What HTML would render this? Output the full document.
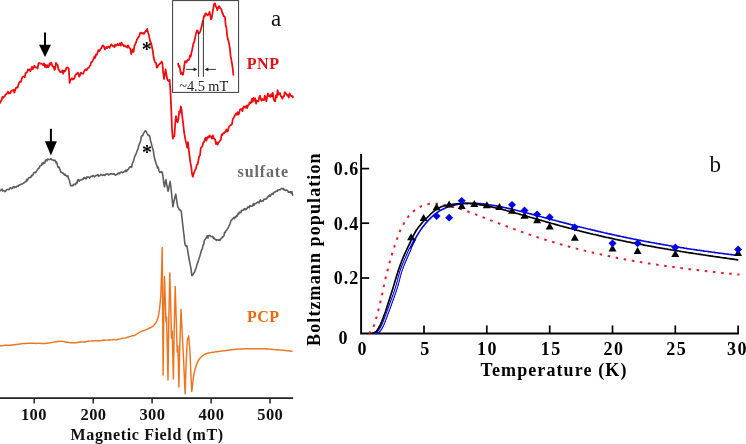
<!DOCTYPE html>
<html><head><meta charset="utf-8"><title>Figure</title>
<style>html,body{margin:0;padding:0;background:#fff;width:746px;height:444px;overflow:hidden}
svg text{font-family:"Liberation Serif",serif}</style></head><body>
<svg width="746" height="444" viewBox="0 0 746 444" style="position:absolute;left:0;top:0;will-change:transform">
<rect width="746" height="444" fill="#fff"/>
<path d="M0.0,103.4 L0.8,101.1 L1.6,100.2 L2.4,96.9 L3.2,97.9 L4.0,96.8 L4.8,96.2 L5.6,94.4 L6.4,94.2 L7.2,93.0 L8.0,91.5 L8.8,93.5 L9.6,93.0 L10.4,93.3 L11.2,90.9 L12.0,90.6 L12.8,90.6 L13.6,89.6 L14.4,92.7 L15.2,90.0 L16.0,87.9 L16.8,87.3 L17.6,87.7 L18.4,85.1 L19.2,82.5 L20.0,81.7 L20.8,82.0 L21.6,79.4 L22.4,77.1 L23.2,76.4 L24.0,76.5 L24.8,77.4 L25.6,72.9 L26.4,72.9 L27.2,72.0 L28.0,69.3 L28.8,70.3 L29.6,69.4 L30.4,71.2 L31.2,69.1 L32.0,66.9 L32.8,69.2 L33.6,67.5 L34.4,65.7 L35.2,67.2 L36.0,67.4 L36.8,67.3 L37.6,68.6 L38.4,63.9 L39.2,62.9 L40.0,63.5 L40.8,63.5 L41.6,63.8 L42.4,64.0 L43.2,65.2 L44.0,63.3 L44.8,66.9 L45.6,64.7 L46.4,67.4 L47.2,65.1 L48.0,67.3 L48.8,66.4 L49.6,63.4 L50.4,64.6 L51.2,62.6 L52.0,64.9 L52.8,66.5 L53.6,66.5 L54.4,69.8 L55.2,69.0 L56.0,62.8 L56.8,64.3 L57.6,64.9 L58.4,69.4 L59.2,69.9 L60.0,72.0 L60.8,72.1 L61.6,71.9 L62.4,70.3 L63.2,73.8 L64.0,70.6 L64.8,71.4 L65.6,70.6 L66.4,67.7 L67.2,67.7 L68.0,67.6 L68.8,69.0 L69.6,83.0 L70.4,79.9 L71.2,79.5 L72.0,78.1 L72.8,79.5 L73.6,78.9 L74.4,78.5 L75.2,75.5 L76.0,74.2 L76.8,74.1 L77.6,72.6 L78.4,73.4 L79.2,76.7 L80.0,75.4 L80.8,72.7 L81.6,73.5 L82.4,73.6 L83.2,73.7 L84.0,71.7 L84.8,70.1 L85.6,69.3 L86.4,70.3 L87.2,69.4 L88.0,67.9 L88.8,67.7 L89.6,66.0 L90.4,65.5 L91.2,62.1 L92.0,62.0 L92.8,60.6 L93.6,58.9 L94.4,56.4 L95.2,57.9 L96.0,54.5 L96.8,54.8 L97.6,52.4 L98.4,50.1 L99.2,51.3 L100.0,50.3 L100.8,48.7 L101.6,47.8 L102.4,45.7 L103.2,45.4 L104.0,46.5 L104.8,49.4 L105.6,48.5 L106.4,46.9 L107.2,48.0 L108.0,46.6 L108.8,46.6 L109.6,47.8 L110.4,46.0 L111.2,44.4 L112.0,45.1 L112.8,46.2 L113.6,46.0 L114.4,47.2 L115.2,44.5 L116.0,45.8 L116.8,45.1 L117.6,44.0 L118.4,45.3 L119.2,44.9 L120.0,43.2 L120.8,45.6 L121.6,42.7 L122.4,44.6 L123.2,45.1 L124.0,46.3 L124.8,45.5 L125.6,46.7 L126.4,46.4 L127.2,47.6 L128.0,45.3 L128.8,46.7 L129.6,48.2 L130.4,48.7 L131.2,54.1 L132.0,50.9 L132.8,49.4 L133.6,52.0 L134.4,45.9 L135.2,44.5 L136.0,42.7 L136.8,39.6 L137.6,38.6 L138.4,37.0 L139.2,36.3 L140.0,33.3 L140.8,32.7 L141.6,32.9 L142.4,33.6 L143.2,32.9 L144.0,33.9 L144.8,32.5 L145.6,30.9 L146.4,31.1 L147.2,28.9 L148.0,32.5 L148.8,34.8 L149.6,39.1 L150.4,42.1 L151.2,43.3 L152.0,47.2 L152.8,50.8 L153.6,57.3 L154.4,60.6 L155.2,62.5 L156.0,62.8 L156.8,67.7 L157.6,67.0 L158.4,65.2 L159.2,64.4 L160.0,63.6 L160.8,62.9 L161.6,61.4 L162.4,63.2 L163.2,72.6 L164.0,79.0 L164.8,74.9 L165.6,69.3 L166.4,74.4 L167.2,79.0 L168.0,80.5 L168.8,81.2 L169.6,79.8 L170.4,90.3 L171.2,108.5 L172.0,129.1 L172.8,138.6 L173.6,136.7 L174.4,136.3 L175.2,123.6 L176.0,116.1 L176.8,120.2 L177.6,122.3 L178.4,118.9 L179.2,111.4 L180.0,112.8 L180.8,106.5 L181.6,109.8 L182.4,117.6 L183.2,123.7 L184.0,131.5 L184.8,136.3 L185.6,140.6 L186.4,143.7 L187.2,147.7 L188.0,142.1 L188.8,149.8 L189.6,156.4 L190.4,162.7 L191.2,166.7 L192.0,173.6 L192.8,176.7 L193.6,173.9 L194.4,171.7 L195.2,170.0 L196.0,168.6 L196.8,164.8 L197.6,164.2 L198.4,160.3 L199.2,156.4 L200.0,155.5 L200.8,147.8 L201.6,147.1 L202.4,146.1 L203.2,142.8 L204.0,141.9 L204.8,139.4 L205.6,137.6 L206.4,140.7 L207.2,137.9 L208.0,136.6 L208.8,137.7 L209.6,135.4 L210.4,136.9 L211.2,136.7 L212.0,138.7 L212.8,135.3 L213.6,138.3 L214.4,138.8 L215.2,139.5 L216.0,144.1 L216.8,142.4 L217.6,144.6 L218.4,142.5 L219.2,141.9 L220.0,140.6 L220.8,139.8 L221.6,134.5 L222.4,135.0 L223.2,133.2 L224.0,133.4 L224.8,132.0 L225.6,132.0 L226.4,129.3 L227.2,131.5 L228.0,131.0 L228.8,127.0 L229.6,126.2 L230.4,125.2 L231.2,124.9 L232.0,124.2 L232.8,118.9 L233.6,118.2 L234.4,116.3 L235.2,114.9 L236.0,113.5 L236.8,114.8 L237.6,112.2 L238.4,114.6 L239.2,113.0 L240.0,109.6 L240.8,109.1 L241.6,109.0 L242.4,111.2 L243.2,107.6 L244.0,106.3 L244.8,107.6 L245.6,107.7 L246.4,105.6 L247.2,108.1 L248.0,105.2 L248.8,105.0 L249.6,102.4 L250.4,103.1 L251.2,102.3 L252.0,98.6 L252.8,101.8 L253.6,97.9 L254.4,100.6 L255.2,98.3 L256.0,103.7 L256.8,100.7 L257.6,101.3 L258.4,101.4 L259.2,97.4 L260.0,95.6 L260.8,98.8 L261.6,100.7 L262.4,99.0 L263.2,100.0 L264.0,100.1 L264.8,95.6 L265.6,98.6 L266.4,101.3 L267.2,96.4 L268.0,93.5 L268.8,96.3 L269.6,95.5 L270.4,96.8 L271.2,94.2 L272.0,96.4 L272.8,92.8 L273.6,99.1 L274.4,101.0 L275.2,101.2 L276.0,95.3 L276.8,97.4 L277.6,90.1 L278.4,94.6 L279.2,93.8 L280.0,92.9 L280.8,96.2 L281.6,96.7 L282.4,98.6 L283.2,96.6 L284.0,96.4 L284.8,92.1 L285.6,93.1 L286.4,94.0 L287.2,95.5 L288.0,94.9 L288.8,97.6 L289.6,93.5 L290.4,95.0 L291.2,96.2 L292.0,95.8 L292.8,97.5 L293.0,95.7" fill="none" stroke="#f00a0e" stroke-width="1.75" stroke-linejoin="round"/>
<path d="M0.0,191.3 L0.7,190.1 L1.4,190.2 L2.1,189.0 L2.8,190.9 L3.5,190.8 L4.2,190.8 L4.9,191.6 L5.6,191.3 L6.3,189.9 L7.0,189.6 L7.7,189.4 L8.4,189.8 L9.1,189.5 L9.8,188.0 L10.5,187.7 L11.2,188.6 L11.9,188.8 L12.6,187.5 L13.3,186.8 L14.0,187.8 L14.7,186.6 L15.4,187.1 L16.1,187.3 L16.8,186.5 L17.5,186.0 L18.2,186.2 L18.9,185.1 L19.6,185.1 L20.3,184.6 L21.0,184.4 L21.7,184.0 L22.4,184.0 L23.1,183.4 L23.8,183.1 L24.5,182.4 L25.2,181.9 L25.9,181.9 L26.6,179.4 L27.3,180.7 L28.0,179.0 L28.7,177.7 L29.4,177.7 L30.1,177.3 L30.8,177.4 L31.5,175.4 L32.2,175.7 L32.9,175.0 L33.6,172.9 L34.3,172.4 L35.0,172.7 L35.7,172.1 L36.4,171.4 L37.1,170.2 L37.8,169.2 L38.5,168.2 L39.2,168.1 L39.9,165.9 L40.6,165.7 L41.3,165.3 L42.0,163.3 L42.7,164.5 L43.4,162.5 L44.1,162.3 L44.8,163.1 L45.5,160.4 L46.2,159.9 L46.9,160.9 L47.6,159.0 L48.3,159.3 L49.0,159.6 L49.7,159.4 L50.4,159.2 L51.1,158.8 L51.8,159.7 L52.5,160.0 L53.2,160.4 L53.9,160.1 L54.6,160.7 L55.3,160.4 L56.0,162.7 L56.7,162.0 L57.4,165.2 L58.1,167.3 L58.8,166.8 L59.5,168.4 L60.2,170.0 L60.9,172.2 L61.6,172.2 L62.3,173.1 L63.0,173.1 L63.7,173.8 L64.4,175.1 L65.1,174.2 L65.8,175.3 L66.5,175.8 L67.2,176.6 L67.9,175.9 L68.6,178.9 L69.3,179.9 L70.0,183.0 L70.7,185.8 L71.4,185.7 L72.1,185.5 L72.8,185.7 L73.5,184.7 L74.2,184.1 L74.9,184.7 L75.6,184.5 L76.3,182.4 L77.0,183.2 L77.7,180.0 L78.4,179.7 L79.1,181.2 L79.8,180.1 L80.5,180.3 L81.2,179.9 L81.9,179.2 L82.6,179.5 L83.3,178.8 L84.0,177.5 L84.7,178.3 L85.4,178.1 L86.1,179.0 L86.8,176.8 L87.5,177.5 L88.2,177.1 L88.9,177.1 L89.6,178.1 L90.3,177.0 L91.0,176.3 L91.7,176.5 L92.4,176.7 L93.1,175.5 L93.8,175.9 L94.5,176.8 L95.2,176.2 L95.9,175.6 L96.6,175.3 L97.3,175.5 L98.0,174.5 L98.7,176.1 L99.4,175.7 L100.1,175.4 L100.8,174.4 L101.5,174.8 L102.2,175.5 L102.9,175.3 L103.6,174.7 L104.3,175.2 L105.0,175.4 L105.7,174.2 L106.4,174.2 L107.1,173.9 L107.8,173.7 L108.5,174.9 L109.2,174.6 L109.9,174.5 L110.6,173.5 L111.3,173.6 L112.0,174.1 L112.7,174.0 L113.4,174.3 L114.1,173.7 L114.8,174.6 L115.5,175.2 L116.2,174.8 L116.9,174.6 L117.6,173.4 L118.3,173.8 L119.0,172.8 L119.7,173.6 L120.4,172.6 L121.1,172.3 L121.8,172.0 L122.5,172.7 L123.2,172.3 L123.9,172.1 L124.6,171.0 L125.3,171.6 L126.0,170.0 L126.7,171.3 L127.4,169.7 L128.1,169.4 L128.8,168.6 L129.5,167.1 L130.2,166.7 L130.9,167.0 L131.6,167.4 L132.3,163.8 L133.0,162.1 L133.7,160.6 L134.4,157.6 L135.1,155.6 L135.8,154.5 L136.5,152.8 L137.2,150.4 L137.9,149.4 L138.6,146.1 L139.3,144.2 L140.0,142.7 L140.7,140.5 L141.4,136.1 L142.1,135.7 L142.8,135.7 L143.5,133.2 L144.2,132.5 L144.9,131.3 L145.6,130.7 L146.3,131.7 L147.0,133.3 L147.7,134.6 L148.4,135.4 L149.1,135.4 L149.8,136.7 L150.5,140.6 L151.2,143.0 L151.9,146.1 L152.6,148.3 L153.3,150.4 L154.0,156.0 L154.7,158.7 L155.4,161.2 L156.1,163.7 L156.8,165.4 L157.5,168.0 L158.2,167.1 L158.9,170.5 L159.6,172.3 L160.3,171.8 L161.0,172.5 L161.7,171.6 L162.4,172.8 L163.1,177.4 L163.8,183.7 L164.5,186.8 L165.2,183.0 L165.9,179.6 L166.6,184.1 L167.3,187.0 L168.0,191.2 L168.7,188.9 L169.4,184.9 L170.1,181.6 L170.8,186.3 L171.5,192.9 L172.2,199.5 L172.9,206.8 L173.6,202.7 L174.3,200.0 L175.0,196.8 L175.7,194.1 L176.4,198.2 L177.1,203.0 L177.8,206.9 L178.5,207.7 L179.2,209.5 L179.9,210.3 L180.6,210.0 L181.3,211.8 L182.0,217.7 L182.7,224.3 L183.4,230.6 L184.1,236.1 L184.8,243.1 L185.5,245.4 L186.2,246.2 L186.9,245.8 L187.6,249.8 L188.3,254.3 L189.0,258.5 L189.7,262.2 L190.4,265.6 L191.1,269.5 L191.8,275.5 L192.5,275.4 L193.2,274.0 L193.9,273.1 L194.6,272.0 L195.3,269.6 L196.0,268.6 L196.7,265.6 L197.4,263.6 L198.1,261.9 L198.8,259.0 L199.5,257.3 L200.2,254.9 L200.9,252.3 L201.6,250.0 L202.3,248.9 L203.0,245.3 L203.7,244.3 L204.4,240.3 L205.1,239.4 L205.8,238.5 L206.5,237.5 L207.2,235.8 L207.9,238.0 L208.6,235.7 L209.3,235.4 L210.0,235.6 L210.7,236.0 L211.4,236.7 L212.1,236.8 L212.8,236.4 L213.5,238.4 L214.2,237.8 L214.9,239.1 L215.6,239.6 L216.3,240.3 L217.0,239.7 L217.7,240.0 L218.4,240.3 L219.1,239.5 L219.8,240.5 L220.5,239.5 L221.2,238.3 L221.9,238.1 L222.6,236.7 L223.3,236.7 L224.0,235.6 L224.7,232.2 L225.4,232.3 L226.1,230.4 L226.8,230.2 L227.5,228.6 L228.2,227.7 L228.9,226.0 L229.6,225.1 L230.3,223.1 L231.0,220.5 L231.7,220.1 L232.4,219.0 L233.1,218.4 L233.8,217.5 L234.5,218.7 L235.2,216.8 L235.9,217.2 L236.6,215.5 L237.3,216.1 L238.0,213.6 L238.7,214.1 L239.4,212.1 L240.1,212.6 L240.8,212.8 L241.5,210.3 L242.2,210.2 L242.9,210.5 L243.6,209.8 L244.3,208.7 L245.0,209.9 L245.7,208.8 L246.4,209.3 L247.1,208.3 L247.8,206.9 L248.5,206.9 L249.2,207.8 L249.9,205.6 L250.6,205.8 L251.3,206.2 L252.0,206.1 L252.7,205.6 L253.4,203.6 L254.1,205.5 L254.8,203.8 L255.5,203.6 L256.2,203.2 L256.9,202.8 L257.6,202.0 L258.3,202.1 L259.0,202.9 L259.7,200.9 L260.4,199.9 L261.1,201.5 L261.8,201.0 L262.5,200.9 L263.2,201.1 L263.9,199.1 L264.6,199.2 L265.3,199.1 L266.0,199.1 L266.7,198.7 L267.4,197.0 L268.1,196.2 L268.8,196.4 L269.5,195.0 L270.2,196.3 L270.9,194.8 L271.6,194.2 L272.3,193.4 L273.0,194.3 L273.7,193.0 L274.4,192.0 L275.1,192.1 L275.8,191.1 L276.5,191.2 L277.2,191.4 L277.9,189.9 L278.6,190.1 L279.3,189.8 L280.0,190.0 L280.7,189.2 L281.4,188.5 L282.1,188.2 L282.8,189.1 L283.5,188.6 L284.2,190.1 L284.9,189.9 L285.6,190.5 L286.3,190.1 L287.0,190.3 L287.7,190.7 L288.4,192.3 L289.1,191.9 L289.8,192.3 L290.5,191.7 L291.2,193.3 L291.9,191.6 L292.6,195.2 L292.9,194.4" fill="none" stroke="#5e5e5e" stroke-width="1.6" stroke-linejoin="round"/>
<path d="M0.0,345.9 L0.8,345.7 L1.6,345.7 L2.4,345.6 L3.2,345.5 L4.0,345.6 L4.8,345.3 L5.6,345.3 L6.4,345.3 L7.2,345.2 L8.0,345.3 L8.8,345.4 L9.6,345.3 L10.4,345.2 L11.2,345.0 L12.0,344.9 L12.8,345.0 L13.6,344.8 L14.4,344.8 L15.2,344.7 L16.0,344.5 L16.8,344.5 L17.6,344.3 L18.4,344.2 L19.2,344.1 L20.0,344.0 L20.8,343.9 L21.6,343.7 L22.4,343.6 L23.2,343.5 L24.0,343.6 L24.8,343.5 L25.6,343.4 L26.4,343.4 L27.2,343.3 L28.0,343.4 L28.8,343.3 L29.6,343.3 L30.4,343.2 L31.2,343.2 L32.0,343.3 L32.8,343.2 L33.6,343.2 L34.4,343.4 L35.2,343.3 L36.0,343.5 L36.8,343.4 L37.6,343.3 L38.4,343.3 L39.2,343.4 L40.0,343.3 L40.8,343.4 L41.6,343.4 L42.4,343.4 L43.2,343.5 L44.0,343.5 L44.8,343.5 L45.6,343.5 L46.4,343.2 L47.2,343.2 L48.0,343.1 L48.8,342.9 L49.6,342.9 L50.4,342.7 L51.2,342.6 L52.0,342.4 L52.8,342.1 L53.6,342.1 L54.4,342.0 L55.2,341.8 L56.0,341.8 L56.8,341.7 L57.6,341.5 L58.4,341.4 L59.2,341.4 L60.0,341.3 L60.8,341.3 L61.6,341.4 L62.4,341.3 L63.2,341.5 L64.0,341.6 L64.8,341.7 L65.6,342.0 L66.4,342.2 L67.2,342.2 L68.0,342.3 L68.8,342.5 L69.6,342.6 L70.4,342.7 L71.2,342.7 L72.0,342.7 L72.8,342.8 L73.6,342.9 L74.4,342.7 L75.2,342.7 L76.0,342.7 L76.8,342.5 L77.6,342.6 L78.4,342.3 L79.2,342.3 L80.0,342.2 L80.8,342.0 L81.6,342.1 L82.4,341.9 L83.2,341.9 L84.0,342.0 L84.8,342.0 L85.6,341.8 L86.4,341.6 L87.2,341.4 L88.0,341.2 L88.8,341.2 L89.6,341.1 L90.4,341.1 L91.2,341.0 L92.0,341.0 L92.8,340.9 L93.6,341.0 L94.4,340.9 L95.2,340.8 L96.0,340.8 L96.8,340.6 L97.6,340.7 L98.4,340.7 L99.2,340.7 L100.0,340.7 L100.8,340.6 L101.6,340.6 L102.4,340.3 L103.2,340.2 L104.0,340.2 L104.8,340.0 L105.6,340.1 L106.4,340.1 L107.2,340.1 L108.0,340.0 L108.8,340.0 L109.6,340.0 L110.4,339.9 L111.2,339.9 L112.0,339.8 L112.8,339.6 L113.6,339.4 L114.4,339.6 L115.2,339.6 L116.0,339.7 L116.8,339.7 L117.6,339.4 L118.4,339.3 L119.2,339.1 L120.0,338.9 L120.8,338.7 L121.6,338.4 L122.4,338.3 L123.2,338.1 L124.0,338.1 L124.8,338.0 L125.6,337.9 L126.4,337.7 L127.2,337.3 L128.0,337.2 L128.8,336.8 L129.6,336.6 L130.4,336.4 L131.2,336.1 L132.0,335.9 L132.8,335.8 L133.6,335.7 L134.4,335.4 L135.2,335.1 L136.0,334.6 L136.8,334.0 L137.6,333.5 L138.4,332.9 L139.2,332.6 L140.0,332.1 L140.8,331.7 L141.6,331.3 L142.4,331.0 L143.2,330.8 L144.0,330.5 L144.8,330.2 L145.6,329.8 L146.4,329.5 L147.2,329.2 L148.0,328.8 L148.8,328.4 L149.6,328.0 L150.4,327.7 L151.2,327.3 L152.0,326.8 L152.8,326.3 L153.6,325.6 L154.4,324.8 L155.2,323.8 L156.0,322.6 L156.8,321.1 L157.6,319.1 L158.4,316.1 L159.2,311.8 L160.0,304.5 L160.8,295.3 L161.6,272.0 L162.2,247.4 L162.6,300.0 L163.1,375.0 L163.7,320.0 L164.5,276.5 L165.3,300.0 L166.0,322.0 L166.6,317.0 L167.2,345.0 L168.0,380.0 L168.8,320.0 L169.8,273.0 L170.6,300.0 L171.4,338.0 L172.2,331.0 L172.8,355.0 L173.4,379.0 L174.2,330.0 L175.2,286.5 L176.2,318.0 L177.2,352.0 L177.9,346.0 L178.4,365.0 L178.9,387.0 L179.8,345.0 L181.0,309.5 L182.3,335.0 L183.6,360.0 L184.4,378.0 L185.1,393.7 L186.2,362.0 L187.3,340.0 L188.7,336.0 L190.0,352.0 L190.9,375.0 L191.8,391.4 L192.4,386.5 L193.0,381.2 L193.6,376.0 L194.2,372.8 L194.8,370.3 L195.4,368.1 L196.0,366.2 L196.6,364.5 L197.2,363.1 L197.8,361.7 L198.4,360.6 L199.0,359.5 L199.6,358.7 L200.2,357.9 L200.8,357.3 L201.4,356.7 L202.0,356.2 L202.6,355.8 L203.2,355.3 L203.8,354.9 L204.4,354.6 L205.0,354.2 L205.6,354.0 L206.2,353.7 L206.8,353.5 L207.4,353.3 L208.0,353.2 L208.6,353.0 L209.2,352.9 L209.8,352.7 L210.4,352.6 L211.0,352.5 L211.6,352.4 L212.2,352.3 L212.8,352.3 L213.4,352.2 L214.0,352.1 L214.6,352.0 L215.2,351.9 L215.8,351.8 L216.4,351.8 L217.0,351.7 L217.6,351.6 L218.2,351.5 L218.8,351.4 L219.4,351.4 L220.0,351.3 L220.6,351.2 L221.2,351.1 L221.8,351.0 L222.4,351.0 L223.0,350.9 L223.6,350.8 L224.2,350.7 L224.8,350.7 L225.4,350.6 L226.0,350.5 L226.6,350.4 L227.2,350.3 L227.8,350.3 L228.4,350.2 L229.0,350.1 L229.6,350.0 L230.2,349.9 L230.8,349.9 L231.4,349.8 L232.0,349.7 L232.6,349.6 L233.2,349.5 L233.8,349.5 L234.4,349.4 L235.0,349.4 L235.6,349.3 L236.2,349.3 L236.8,349.2 L237.4,349.2 L238.0,349.1 L238.6,349.1 L239.2,349.1 L239.8,349.0 L240.4,349.0 L241.0,349.0 L241.6,348.9 L242.2,348.9 L242.8,348.9 L243.4,348.9 L244.0,348.8 L244.6,348.8 L245.2,348.8 L245.8,348.8 L246.4,348.8 L247.0,348.7 L247.6,348.7 L248.2,348.7 L248.8,348.7 L249.4,348.7 L250.0,348.7 L250.6,348.7 L251.2,348.7 L251.8,348.7 L252.4,348.7 L253.0,348.7 L253.6,348.7 L254.2,348.7 L254.8,348.7 L255.4,348.7 L256.0,348.7 L256.6,348.7 L257.2,348.7 L257.8,348.7 L258.4,348.7 L259.0,348.7 L259.6,348.7 L260.2,348.7 L260.8,348.7 L261.4,348.7 L262.0,348.7 L262.6,348.7 L263.2,348.7 L263.8,348.7 L264.4,348.8 L265.0,348.8 L265.6,348.8 L266.2,348.9 L266.8,348.9 L267.4,348.9 L268.0,349.0 L268.6,349.0 L269.2,349.1 L269.8,349.1 L270.4,349.2 L271.0,349.3 L271.6,349.3 L272.2,349.4 L272.8,349.4 L273.4,349.5 L274.0,349.5 L274.6,349.6 L275.2,349.6 L275.8,349.7 L276.4,349.7 L277.0,349.8 L277.6,349.8 L278.2,349.8 L278.8,349.9 L279.4,349.9 L280.0,350.0 L280.6,350.0 L281.2,350.1 L281.8,350.1 L282.4,350.2 L283.0,350.3 L283.6,350.3 L284.2,350.4 L284.8,350.4 L285.4,350.5 L286.0,350.5 L286.6,350.6 L287.2,350.7 L287.8,350.7 L288.4,350.8 L289.0,350.9 L289.6,351.0 L290.2,351.0 L290.8,351.1 L291.4,351.2 L292.0,351.3 L292.6,351.3" fill="none" stroke="#ee7420" stroke-width="1.45" stroke-linejoin="round"/>
<rect x="172.6" y="0.6" width="66" height="91.8" fill="#fff" stroke="#3a3a3a" stroke-width="1"/>
<path d="M177.4,63.5 L178.1,63.5 L178.8,66.9 L179.5,66.0 L180.2,69.5 L180.9,74.1 L181.6,72.6 L182.3,73.5 L183.0,74.8 L183.7,70.7 L184.4,64.6 L185.1,61.1 L185.8,61.3 L186.5,62.5 L187.2,60.5 L187.9,60.0 L188.6,60.1 L189.3,59.4 L190.0,55.3 L190.7,56.7 L191.4,52.8 L192.1,50.1 L192.8,46.5 L193.5,43.3 L194.2,41.8 L194.9,38.7 L195.6,35.4 L196.3,32.5 L197.0,30.4 L197.7,30.8 L198.4,33.5 L199.1,33.4 L199.8,32.5 L200.5,30.6 L201.2,28.0 L201.9,25.3 L202.6,21.8 L203.3,19.4 L204.0,16.0 L204.7,16.3 L205.4,13.3 L206.1,13.6 L206.8,14.6 L207.5,15.3 L208.2,14.8 L208.9,13.4 L209.6,11.7 L210.3,15.6 L211.0,19.3 L211.7,18.2 L212.4,13.9 L213.1,9.6 L213.8,5.4 L214.5,3.3 L215.2,3.7 L215.9,6.9 L216.6,7.1 L217.3,10.2 L218.0,8.1 L218.7,7.1 L219.4,6.1 L220.1,8.2 L220.8,8.6 L221.5,9.7 L222.2,12.7 L222.9,13.6 L223.6,16.2 L224.3,16.4 L225.0,17.1 L225.7,25.7 L226.4,27.4 L227.1,34.8 L227.8,39.1 L228.5,41.0 L229.2,44.4 L229.9,48.6 L230.6,55.8 L231.3,59.7 L232.0,63.7 L232.7,68.3 L233.4,74.8 L233.6,74.2" fill="none" stroke="#f00a0e" stroke-width="1.75" stroke-linejoin="round"/>
<path d="M198.6,32.5V76.9M203.4,20.7V76.9" stroke="#222" stroke-width="0.9" fill="none"/>
<path d="M186.1,69.4H195M206.5,69.4H215.9" stroke="#222" stroke-width="0.9" fill="none"/>
<path d="M197.4,69.4l-3.8,-1.9v3.8zM204.5,69.4l3.8,-1.9v3.8z" fill="#222"/>
<text x="179.2" y="91.2" font-family="Liberation Serif" font-size="14.3" fill="#222">~4.5 mT</text>
<path d="M45.0,32.5V45.7" stroke="#000" stroke-width="2" fill="none"/>
<path d="M39.0,44.7L51.0,44.7L45.0,57.0z" fill="#000"/>
<path d="M50.9,128.8V142.3" stroke="#000" stroke-width="2" fill="none"/>
<path d="M44.9,141.3L56.9,141.3L50.9,155.6z" fill="#000"/>
<text x="146.7" y="55.9" text-anchor="middle" font-family="Liberation Serif" font-weight="bold" font-size="20" fill="#000">*</text>
<text x="147" y="159.4" text-anchor="middle" font-family="Liberation Serif" font-weight="bold" font-size="20" fill="#000">*</text>
<text x="276.2" y="25.9" text-anchor="middle" font-family="Liberation Serif" font-size="23" fill="#111">a</text>
<text x="246.8" y="69" font-family="Liberation Serif" font-weight="bold" font-size="16" letter-spacing="0.5" fill="#e20f18">PNP</text>
<text x="237.6" y="176.7" font-family="Liberation Serif" font-weight="bold" font-size="16" letter-spacing="0.85" fill="#6a6a6a">sulfate</text>
<text x="247" y="321.9" font-family="Liberation Serif" font-weight="bold" font-size="16" letter-spacing="0.5" fill="#e9690f">PCP</text>
<path d="M0,398.1H293.2" stroke="#222" stroke-width="1.6" fill="none"/>
<path d="M34.2,398V403.4" stroke="#222" stroke-width="1.5"/>
<text x="33.9" y="419.8" text-anchor="middle" font-family="Liberation Serif" font-weight="bold" font-size="16.5" letter-spacing="0.4" fill="#111">100</text>
<path d="M93.2,398V403.4" stroke="#222" stroke-width="1.5"/>
<text x="93.5" y="419.8" text-anchor="middle" font-family="Liberation Serif" font-weight="bold" font-size="16.5" letter-spacing="0.4" fill="#111">200</text>
<path d="M152.1,398V403.4" stroke="#222" stroke-width="1.5"/>
<text x="152.4" y="419.8" text-anchor="middle" font-family="Liberation Serif" font-weight="bold" font-size="16.5" letter-spacing="0.4" fill="#111">300</text>
<path d="M211.1,398V403.4" stroke="#222" stroke-width="1.5"/>
<text x="211.4" y="419.8" text-anchor="middle" font-family="Liberation Serif" font-weight="bold" font-size="16.5" letter-spacing="0.4" fill="#111">400</text>
<path d="M270.0,398V403.4" stroke="#222" stroke-width="1.5"/>
<text x="270.3" y="419.8" text-anchor="middle" font-family="Liberation Serif" font-weight="bold" font-size="16.5" letter-spacing="0.4" fill="#111">500</text>
<text x="70.6" y="440.4" font-family="Liberation Serif" font-weight="bold" font-size="16" letter-spacing="0.62" fill="#111">Magnetic Field (mT)</text>
<path d="M361.1,154.1V333.5H738.9" stroke="#000" stroke-width="1.9" fill="none" stroke-linejoin="miter"/>
<path d="M361.2,168.6H369.2" stroke="#000" stroke-width="1.7"/>
<text x="359.2" y="175.0" text-anchor="end" font-family="Liberation Serif" font-weight="bold" font-size="18" letter-spacing="1" fill="#000">0.6</text>
<path d="M361.2,223.2H369.2" stroke="#000" stroke-width="1.7"/>
<text x="359.2" y="229.6" text-anchor="end" font-family="Liberation Serif" font-weight="bold" font-size="18" letter-spacing="1" fill="#000">0.4</text>
<path d="M361.2,278.0H369.2" stroke="#000" stroke-width="1.7"/>
<text x="359.2" y="284.4" text-anchor="end" font-family="Liberation Serif" font-weight="bold" font-size="18" letter-spacing="1" fill="#000">0.2</text>
<text x="347.6" y="343.6" text-anchor="end" font-family="Liberation Serif" font-weight="bold" font-size="18" fill="#000">0</text>
<text x="362.8" y="354.9" text-anchor="middle" font-family="Liberation Serif" font-weight="bold" font-size="18" letter-spacing="1.5" fill="#000">0</text>
<path d="M424.0,333.5V325.4" stroke="#000" stroke-width="1.7"/>
<text x="425.6" y="354.9" text-anchor="middle" font-family="Liberation Serif" font-weight="bold" font-size="18" letter-spacing="1.5" fill="#000">5</text>
<path d="M486.8,333.5V325.4" stroke="#000" stroke-width="1.7"/>
<text x="487.5" y="354.9" text-anchor="middle" font-family="Liberation Serif" font-weight="bold" font-size="18" letter-spacing="1.5" fill="#000">10</text>
<path d="M549.7,333.5V325.4" stroke="#000" stroke-width="1.7"/>
<text x="551.2" y="354.9" text-anchor="middle" font-family="Liberation Serif" font-weight="bold" font-size="18" letter-spacing="1.5" fill="#000">15</text>
<path d="M612.5,333.5V325.4" stroke="#000" stroke-width="1.7"/>
<text x="614.0" y="354.9" text-anchor="middle" font-family="Liberation Serif" font-weight="bold" font-size="18" letter-spacing="1.5" fill="#000">20</text>
<path d="M675.3,333.5V325.4" stroke="#000" stroke-width="1.7"/>
<text x="676.8" y="354.9" text-anchor="middle" font-family="Liberation Serif" font-weight="bold" font-size="18" letter-spacing="1.5" fill="#000">25</text>
<path d="M738.1,333.5V325.4" stroke="#000" stroke-width="1.7"/>
<text x="737.5" y="354.9" text-anchor="middle" font-family="Liberation Serif" font-weight="bold" font-size="18" letter-spacing="1.5" fill="#000">30</text>
<text x="480.5" y="376.2" font-family="Liberation Serif" font-weight="bold" font-size="18" letter-spacing="1.1" fill="#000">Temperature (K)</text>
<text transform="translate(319.5,345.9) rotate(-90)" font-family="Liberation Serif" font-weight="bold" font-size="18" letter-spacing="1.1" fill="#000">Boltzmann population</text>
<text x="715.3" y="172" text-anchor="middle" font-family="Liberation Serif" font-size="23" fill="#111">b</text>
<path d="M368.5,333.0 L369.5,332.6 L370.5,331.9 L371.5,330.7 L372.5,328.9 L373.5,326.8 L374.5,324.2 L375.5,320.9 L376.5,317.2 L377.5,313.5 L378.5,309.7 L379.5,305.7 L380.5,301.5 L381.5,297.2 L382.5,292.4 L383.5,287.5 L384.5,282.9 L385.5,278.6 L386.5,274.6 L387.5,270.6 L388.5,266.8 L389.5,263.1 L390.5,259.4 L391.5,255.8 L392.5,252.5 L393.5,249.4 L394.5,246.4 L395.5,243.6 L396.5,240.6 L397.5,237.6 L398.5,234.7 L399.5,232.1 L400.5,230.0 L401.5,228.0 L402.5,226.0 L403.5,224.2 L404.5,222.4 L405.5,220.7 L406.5,219.2 L407.5,217.7 L408.5,216.3 L409.5,215.1 L410.5,213.9 L411.5,212.9 L412.5,212.0 L413.5,211.2 L414.5,210.4 L415.5,209.7 L416.5,209.0 L417.5,208.3 L418.5,207.7 L419.5,207.1 L420.5,206.6 L421.5,206.1 L422.5,205.7 L423.5,205.3 L424.5,205.0 L425.5,204.8 L426.5,204.5 L427.5,204.3 L428.5,204.0 L429.5,203.8 L430.5,203.7 L431.5,203.6 L432.5,203.5 L433.5,203.5 L434.5,203.5 L435.5,203.6 L436.5,203.7 L437.5,203.8 L438.5,203.9 L439.5,204.1 L440.5,204.2 L441.5,204.3 L442.5,204.5 L443.5,204.7 L444.5,204.9 L445.5,205.1 L446.5,205.4 L447.5,205.6 L448.5,205.8 L449.5,206.0 L450.5,206.3 L451.5,206.5 L452.5,206.7 L453.5,207.0 L454.5,207.2 L455.5,207.5 L456.5,207.8 L457.5,208.1 L458.5,208.4 L459.5,208.7 L460.5,209.0 L461.5,209.3 L462.5,209.7 L463.5,210.0 L464.5,210.4 L465.5,210.7 L466.5,211.1 L467.5,211.4 L468.5,211.8 L469.5,212.2 L470.5,212.5 L471.5,212.9 L472.5,213.3 L473.5,213.6 L474.5,214.0 L475.5,214.4 L476.5,214.8 L477.5,215.1 L478.5,215.5 L479.5,215.9 L480.5,216.3 L481.5,216.7 L482.5,217.1 L483.5,217.5 L484.5,217.8 L485.5,218.2 L486.5,218.6 L487.5,219.0 L488.5,219.4 L489.5,219.8 L490.5,220.2 L491.5,220.6 L492.5,220.9 L493.5,221.3 L494.5,221.7 L495.5,222.1 L496.5,222.5 L497.5,222.9 L498.5,223.3 L499.5,223.6 L500.5,224.0 L501.5,224.4 L502.5,224.8 L503.5,225.2 L504.5,225.5 L505.5,225.9 L506.5,226.3 L507.5,226.7 L508.5,227.1 L509.5,227.4 L510.5,227.8 L511.5,228.2 L512.5,228.5 L513.5,228.9 L514.5,229.3 L515.5,229.6 L516.5,230.0 L517.5,230.4 L518.5,230.7 L519.5,231.1 L520.5,231.4 L521.5,231.8 L522.5,232.1 L523.5,232.5 L524.5,232.8 L525.5,233.2 L526.5,233.5 L527.5,233.9 L528.5,234.2 L529.5,234.6 L530.5,234.9 L531.5,235.3 L532.5,235.6 L533.5,235.9 L534.5,236.3 L535.5,236.6 L536.5,236.9 L537.5,237.2 L538.5,237.6 L539.5,237.9 L540.5,238.2 L541.5,238.5 L542.5,238.9 L543.5,239.2 L544.5,239.5 L545.5,239.8 L546.5,240.1 L547.5,240.4 L548.5,240.7 L549.5,241.0 L550.5,241.3 L551.5,241.6 L552.5,241.9 L553.5,242.2 L554.5,242.5 L555.5,242.8 L556.5,243.1 L557.5,243.4 L558.5,243.7 L559.5,244.0 L560.5,244.3 L561.5,244.6 L562.5,244.8 L563.5,245.1 L564.5,245.4 L565.5,245.7 L566.5,246.0 L567.5,246.2 L568.5,246.5 L569.5,246.8 L570.5,247.0 L571.5,247.3 L572.5,247.6 L573.5,247.8 L574.5,248.1 L575.5,248.4 L576.5,248.6 L577.5,248.9 L578.5,249.1 L579.5,249.4 L580.5,249.6 L581.5,249.9 L582.5,250.1 L583.5,250.4 L584.5,250.6 L585.5,250.9 L586.5,251.1 L587.5,251.4 L588.5,251.6 L589.5,251.8 L590.5,252.1 L591.5,252.3 L592.5,252.5 L593.5,252.8 L594.5,253.0 L595.5,253.2 L596.5,253.4 L597.5,253.7 L598.5,253.9 L599.5,254.1 L600.5,254.3 L601.5,254.6 L602.5,254.8 L603.5,255.0 L604.5,255.2 L605.5,255.4 L606.5,255.6 L607.5,255.8 L608.5,256.1 L609.5,256.3 L610.5,256.5 L611.5,256.7 L612.5,256.9 L613.5,257.1 L614.5,257.3 L615.5,257.5 L616.5,257.7 L617.5,257.9 L618.5,258.1 L619.5,258.3 L620.5,258.5 L621.5,258.6 L622.5,258.8 L623.5,259.0 L624.5,259.2 L625.5,259.4 L626.5,259.6 L627.5,259.8 L628.5,260.0 L629.5,260.1 L630.5,260.3 L631.5,260.5 L632.5,260.7 L633.5,260.9 L634.5,261.0 L635.5,261.2 L636.5,261.4 L637.5,261.6 L638.5,261.7 L639.5,261.9 L640.5,262.1 L641.5,262.2 L642.5,262.4 L643.5,262.6 L644.5,262.7 L645.5,262.9 L646.5,263.1 L647.5,263.2 L648.5,263.4 L649.5,263.5 L650.5,263.7 L651.5,263.9 L652.5,264.0 L653.5,264.2 L654.5,264.3 L655.5,264.5 L656.5,264.6 L657.5,264.8 L658.5,264.9 L659.5,265.1 L660.5,265.2 L661.5,265.4 L662.5,265.5 L663.5,265.7 L664.5,265.8 L665.5,266.0 L666.5,266.1 L667.5,266.3 L668.5,266.4 L669.5,266.5 L670.5,266.7 L671.5,266.8 L672.5,267.0 L673.5,267.1 L674.5,267.2 L675.5,267.4 L676.5,267.5 L677.5,267.6 L678.5,267.8 L679.5,267.9 L680.5,268.0 L681.5,268.2 L682.5,268.3 L683.5,268.4 L684.5,268.5 L685.5,268.7 L686.5,268.8 L687.5,268.9 L688.5,269.1 L689.5,269.2 L690.5,269.3 L691.5,269.4 L692.5,269.5 L693.5,269.7 L694.5,269.8 L695.5,269.9 L696.5,270.0 L697.5,270.1 L698.5,270.3 L699.5,270.4 L700.5,270.5 L701.5,270.6 L702.5,270.7 L703.5,270.8 L704.5,271.0 L705.5,271.1 L706.5,271.2 L707.5,271.3 L708.5,271.4 L709.5,271.5 L710.5,271.6 L711.5,271.7 L712.5,271.9 L713.5,272.0 L714.5,272.1 L715.5,272.2 L716.5,272.3 L717.5,272.4 L718.5,272.5 L719.5,272.6 L720.5,272.7 L721.5,272.8 L722.5,272.9 L723.5,273.0 L724.5,273.1 L725.5,273.2 L726.5,273.3 L727.5,273.4 L728.5,273.5 L729.5,273.6 L730.5,273.7 L731.5,273.8 L732.5,273.9 L733.5,274.0 L734.5,274.1 L735.5,274.2 L736.5,274.3 L737.5,274.4 L738.5,274.5 L739.5,274.6" fill="none" stroke="#e2202a" stroke-width="2" stroke-dasharray="2.6 5.6"/>
<path d="M375.3,333.0 L376.3,332.8 L377.3,332.4 L378.3,331.8 L379.3,330.8 L380.3,329.4 L381.3,327.8 L382.3,326.0 L383.3,323.8 L384.3,321.3 L385.3,318.6 L386.3,315.9 L387.3,313.3 L388.3,310.6 L389.3,307.9 L390.3,305.1 L391.3,302.3 L392.3,299.5 L393.3,296.7 L394.3,293.9 L395.3,291.0 L396.3,288.0 L397.3,284.6 L398.3,280.8 L399.3,276.8 L400.3,273.2 L401.3,270.0 L402.3,267.3 L403.3,264.8 L404.3,262.4 L405.3,260.1 L406.3,257.8 L407.3,255.5 L408.3,253.2 L409.3,250.9 L410.3,248.7 L411.3,246.6 L412.3,244.5 L413.3,242.5 L414.3,240.6 L415.3,238.7 L416.3,236.9 L417.3,235.2 L418.3,233.5 L419.3,231.9 L420.3,230.4 L421.3,228.9 L422.3,227.5 L423.3,226.2 L424.3,225.0 L425.3,223.8 L426.3,222.6 L427.3,221.5 L428.3,220.4 L429.3,219.3 L430.3,218.3 L431.3,217.4 L432.3,216.5 L433.3,215.6 L434.3,214.7 L435.3,213.9 L436.3,213.1 L437.3,212.4 L438.3,211.7 L439.3,211.1 L440.3,210.5 L441.3,209.9 L442.3,209.4 L443.3,208.9 L444.3,208.4 L445.3,208.0 L446.3,207.6 L447.3,207.2 L448.3,206.8 L449.3,206.5 L450.3,206.2 L451.3,205.9 L452.3,205.7 L453.3,205.4 L454.3,205.2 L455.3,204.9 L456.3,204.7 L457.3,204.5 L458.3,204.3 L459.3,204.2 L460.3,204.0 L461.3,203.9 L462.3,203.7 L463.3,203.6 L464.3,203.5 L465.3,203.4 L466.3,203.3 L467.3,203.3 L468.3,203.3 L469.3,203.2 L470.3,203.2 L471.3,203.2 L472.3,203.2 L473.3,203.2 L474.3,203.3 L475.3,203.3 L476.3,203.4 L477.3,203.4 L478.3,203.5 L479.3,203.6 L480.3,203.6 L481.3,203.7 L482.3,203.8 L483.3,203.9 L484.3,204.1 L485.3,204.2 L486.3,204.3 L487.3,204.4 L488.3,204.6 L489.3,204.7 L490.3,204.9 L491.3,205.0 L492.3,205.2 L493.3,205.4 L494.3,205.5 L495.3,205.7 L496.3,205.9 L497.3,206.1 L498.3,206.3 L499.3,206.5 L500.3,206.7 L501.3,206.9 L502.3,207.1 L503.3,207.3 L504.3,207.5 L505.3,207.7 L506.3,207.9 L507.3,208.2 L508.3,208.4 L509.3,208.6 L510.3,208.8 L511.3,209.1 L512.3,209.3 L513.3,209.6 L514.3,209.8 L515.3,210.0 L516.3,210.3 L517.3,210.5 L518.3,210.8 L519.3,211.0 L520.3,211.3 L521.3,211.5 L522.3,211.8 L523.3,212.0 L524.3,212.3 L525.3,212.5 L526.3,212.8 L527.3,213.1 L528.3,213.3 L529.3,213.6 L530.3,213.8 L531.3,214.1 L532.3,214.4 L533.3,214.6 L534.3,214.9 L535.3,215.2 L536.3,215.4 L537.3,215.7 L538.3,216.0 L539.3,216.2 L540.3,216.5 L541.3,216.8 L542.3,217.0 L543.3,217.3 L544.3,217.6 L545.3,217.8 L546.3,218.1 L547.3,218.4 L548.3,218.6 L549.3,218.9 L550.3,219.2 L551.3,219.4 L552.3,219.7 L553.3,220.0 L554.3,220.2 L555.3,220.5 L556.3,220.8 L557.3,221.0 L558.3,221.3 L559.3,221.6 L560.3,221.8 L561.3,222.1 L562.3,222.3 L563.3,222.6 L564.3,222.9 L565.3,223.1 L566.3,223.4 L567.3,223.6 L568.3,223.9 L569.3,224.2 L570.3,224.4 L571.3,224.7 L572.3,224.9 L573.3,225.2 L574.3,225.5 L575.3,225.7 L576.3,226.0 L577.3,226.2 L578.3,226.5 L579.3,226.7 L580.3,227.0 L581.3,227.2 L582.3,227.5 L583.3,227.7 L584.3,228.0 L585.3,228.2 L586.3,228.5 L587.3,228.7 L588.3,229.0 L589.3,229.2 L590.3,229.4 L591.3,229.7 L592.3,229.9 L593.3,230.2 L594.3,230.4 L595.3,230.6 L596.3,230.9 L597.3,231.1 L598.3,231.4 L599.3,231.6 L600.3,231.8 L601.3,232.1 L602.3,232.3 L603.3,232.5 L604.3,232.8 L605.3,233.0 L606.3,233.2 L607.3,233.4 L608.3,233.7 L609.3,233.9 L610.3,234.1 L611.3,234.3 L612.3,234.6 L613.3,234.8 L614.3,235.0 L615.3,235.2 L616.3,235.4 L617.3,235.7 L618.3,235.9 L619.3,236.1 L620.3,236.3 L621.3,236.5 L622.3,236.7 L623.3,236.9 L624.3,237.2 L625.3,237.4 L626.3,237.6 L627.3,237.8 L628.3,238.0 L629.3,238.2 L630.3,238.4 L631.3,238.6 L632.3,238.8 L633.3,239.0 L634.3,239.2 L635.3,239.4 L636.3,239.6 L637.3,239.8 L638.3,240.0 L639.3,240.2 L640.3,240.4 L641.3,240.6 L642.3,240.8 L643.3,241.0 L644.3,241.2 L645.3,241.4 L646.3,241.5 L647.3,241.7 L648.3,241.9 L649.3,242.1 L650.3,242.3 L651.3,242.5 L652.3,242.7 L653.3,242.8 L654.3,243.0 L655.3,243.2 L656.3,243.4 L657.3,243.6 L658.3,243.8 L659.3,243.9 L660.3,244.1 L661.3,244.3 L662.3,244.5 L663.3,244.6 L664.3,244.8 L665.3,245.0 L666.3,245.1 L667.3,245.3 L668.3,245.5 L669.3,245.7 L670.3,245.8 L671.3,246.0 L672.3,246.2 L673.3,246.3 L674.3,246.5 L675.3,246.7 L676.3,246.8 L677.3,247.0 L678.3,247.1 L679.3,247.3 L680.3,247.5 L681.3,247.6 L682.3,247.8 L683.3,247.9 L684.3,248.1 L685.3,248.2 L686.3,248.4 L687.3,248.6 L688.3,248.7 L689.3,248.9 L690.3,249.0 L691.3,249.2 L692.3,249.3 L693.3,249.5 L694.3,249.6 L695.3,249.8 L696.3,249.9 L697.3,250.1 L698.3,250.2 L699.3,250.3 L700.3,250.5 L701.3,250.6 L702.3,250.8 L703.3,250.9 L704.3,251.1 L705.3,251.2 L706.3,251.3 L707.3,251.5 L708.3,251.6 L709.3,251.8 L710.3,251.9 L711.3,252.0 L712.3,252.2 L713.3,252.3 L714.3,252.4 L715.3,252.6 L716.3,252.7 L717.3,252.8 L718.3,253.0 L719.3,253.1 L720.3,253.2 L721.3,253.3 L722.3,253.5 L723.3,253.6 L724.3,253.7 L725.3,253.9 L726.3,254.0 L727.3,254.1 L728.3,254.2 L729.3,254.4 L730.3,254.5 L731.3,254.6 L732.3,254.7 L733.3,254.9 L734.3,255.0 L735.3,255.1 L736.3,255.2 L737.3,255.3" fill="none" stroke="#0606de" stroke-width="1.65"/>
<path d="M375.3,333.0 L376.3,332.8 L377.3,332.4 L378.3,331.8 L379.3,330.8 L380.3,329.4 L381.3,327.8 L382.3,326.0 L383.3,323.8 L384.3,321.3 L385.3,318.6 L386.3,315.9 L387.3,313.3 L388.3,310.6 L389.3,307.9 L390.3,305.1 L391.3,302.3 L392.3,299.5 L393.3,296.7 L394.3,293.9 L395.3,291.0 L396.3,288.0 L397.3,284.6 L398.3,280.8 L399.3,276.8 L400.3,273.2 L401.3,270.0 L402.3,267.3 L403.3,264.8 L404.3,262.4 L405.3,260.1 L406.3,257.8 L407.3,255.5 L408.3,253.2 L409.3,250.9 L410.3,248.7 L411.3,246.6 L412.3,244.5 L413.3,242.5 L414.3,240.6 L415.3,238.7" fill="none" stroke="#0606de" stroke-width="2.4"/>
<path d="M375.3,333.0 L376.3,332.8 L377.3,332.4 L378.3,331.8 L379.3,330.8 L380.3,329.4 L381.3,327.8 L382.3,326.0 L383.3,323.8 L384.3,321.3 L385.3,318.6 L386.3,315.9 L387.3,313.3 L388.3,310.6 L389.3,307.9 L390.3,305.1 L391.3,302.3 L392.3,299.5 L393.3,296.7 L394.3,293.9 L395.3,291.0 L396.3,288.0 L397.3,284.6 L398.3,280.8 L399.3,276.8 L400.3,273.2 L401.3,270.0 L402.3,267.3 L403.3,264.8 L404.3,262.4 L405.3,260.1 L406.3,257.8 L407.3,255.5 L408.3,253.2 L409.3,250.9 L410.3,248.7" fill="none" stroke="#0606de" stroke-width="2.9"/>
<path d="M378.3,331.8 L379.3,330.8 L380.3,329.4 L381.3,327.8 L382.3,326.0 L383.3,323.8 L384.3,321.3 L385.3,318.6 L386.3,315.9 L387.3,313.3 L388.3,310.6 L389.3,307.9 L390.3,305.1 L391.3,302.3 L392.3,299.5 L393.3,296.7 L394.3,293.9 L395.3,291.0 L396.3,288.0 L397.3,284.6 L398.3,280.8 L399.3,276.8 L400.3,273.2 L401.3,270.0 L402.3,267.3 L403.3,264.8 L404.3,262.4 L405.3,260.1 L406.3,257.8 L407.3,255.5 L408.3,253.2 L409.3,250.9 L410.3,248.7" fill="none" stroke="#e4e4ff" stroke-width="1.0"/>
<path d="M372.3,333.0 L373.3,332.9 L374.3,332.6 L375.3,332.1 L376.3,331.3 L377.3,330.0 L378.3,328.4 L379.3,326.8 L380.3,324.9 L381.3,322.7 L382.3,320.1 L383.3,317.5 L384.3,314.7 L385.3,312.0 L386.3,309.0 L387.3,306.0 L388.3,302.8 L389.3,299.7 L390.3,296.6 L391.3,293.4 L392.3,290.2 L393.3,287.0 L394.3,283.7 L395.3,280.3 L396.3,276.9 L397.3,273.7 L398.3,270.6 L399.3,267.7 L400.3,264.9 L401.3,262.2 L402.3,259.7 L403.3,257.2 L404.3,254.9 L405.3,252.6 L406.3,250.5 L407.3,248.4 L408.3,246.4 L409.3,244.3 L410.3,242.2 L411.3,240.0 L412.3,237.9 L413.3,235.8 L414.3,233.8 L415.3,232.0 L416.3,230.3 L417.3,228.9 L418.3,227.6 L419.3,226.3 L420.3,225.1 L421.3,223.8 L422.3,222.6 L423.3,221.5 L424.3,220.4 L425.3,219.4 L426.3,218.4 L427.3,217.5 L428.3,216.5 L429.3,215.5 L430.3,214.5 L431.3,213.5 L432.3,212.5 L433.3,211.6 L434.3,210.8 L435.3,210.0 L436.3,209.4 L437.3,208.8 L438.3,208.2 L439.3,207.7 L440.3,207.2 L441.3,206.8 L442.3,206.4 L443.3,206.1 L444.3,205.9 L445.3,205.7 L446.3,205.5 L447.3,205.3 L448.3,205.1 L449.3,204.9 L450.3,204.8 L451.3,204.6 L452.3,204.4 L453.3,204.3 L454.3,204.1 L455.3,204.0 L456.3,203.9 L457.3,203.8 L458.3,203.7 L459.3,203.6 L460.3,203.5 L461.3,203.4 L462.3,203.4 L463.3,203.4 L464.3,203.3 L465.3,203.3 L466.3,203.4 L467.3,203.4 L468.3,203.5 L469.3,203.5 L470.3,203.6 L471.3,203.7 L472.3,203.7 L473.3,203.8 L474.3,204.0 L475.3,204.1 L476.3,204.2 L477.3,204.3 L478.3,204.5 L479.3,204.6 L480.3,204.8 L481.3,204.9 L482.3,205.1 L483.3,205.3 L484.3,205.4 L485.3,205.6 L486.3,205.8 L487.3,206.0 L488.3,206.2 L489.3,206.4 L490.3,206.6 L491.3,206.8 L492.3,207.1 L493.3,207.3 L494.3,207.5 L495.3,207.8 L496.3,208.0 L497.3,208.2 L498.3,208.5 L499.3,208.7 L500.3,209.0 L501.3,209.2 L502.3,209.5 L503.3,209.7 L504.3,210.0 L505.3,210.2 L506.3,210.5 L507.3,210.8 L508.3,211.0 L509.3,211.3 L510.3,211.6 L511.3,211.9 L512.3,212.1 L513.3,212.4 L514.3,212.7 L515.3,213.0 L516.3,213.3 L517.3,213.5 L518.3,213.8 L519.3,214.1 L520.3,214.4 L521.3,214.7 L522.3,215.0 L523.3,215.2 L524.3,215.5 L525.3,215.8 L526.3,216.1 L527.3,216.4 L528.3,216.7 L529.3,217.0 L530.3,217.3 L531.3,217.5 L532.3,217.8 L533.3,218.1 L534.3,218.4 L535.3,218.7 L536.3,219.0 L537.3,219.3 L538.3,219.6 L539.3,219.8 L540.3,220.1 L541.3,220.4 L542.3,220.7 L543.3,221.0 L544.3,221.3 L545.3,221.6 L546.3,221.9 L547.3,222.1 L548.3,222.4 L549.3,222.7 L550.3,223.0 L551.3,223.3 L552.3,223.5 L553.3,223.8 L554.3,224.1 L555.3,224.4 L556.3,224.7 L557.3,224.9 L558.3,225.2 L559.3,225.5 L560.3,225.8 L561.3,226.0 L562.3,226.3 L563.3,226.6 L564.3,226.9 L565.3,227.1 L566.3,227.4 L567.3,227.7 L568.3,227.9 L569.3,228.2 L570.3,228.5 L571.3,228.7 L572.3,229.0 L573.3,229.2 L574.3,229.5 L575.3,229.8 L576.3,230.0 L577.3,230.3 L578.3,230.5 L579.3,230.8 L580.3,231.1 L581.3,231.3 L582.3,231.6 L583.3,231.8 L584.3,232.1 L585.3,232.3 L586.3,232.6 L587.3,232.8 L588.3,233.0 L589.3,233.3 L590.3,233.5 L591.3,233.8 L592.3,234.0 L593.3,234.3 L594.3,234.5 L595.3,234.7 L596.3,235.0 L597.3,235.2 L598.3,235.4 L599.3,235.7 L600.3,235.9 L601.3,236.1 L602.3,236.4 L603.3,236.6 L604.3,236.8 L605.3,237.1 L606.3,237.3 L607.3,237.5 L608.3,237.7 L609.3,237.9 L610.3,238.2 L611.3,238.4 L612.3,238.6 L613.3,238.8 L614.3,239.0 L615.3,239.3 L616.3,239.5 L617.3,239.7 L618.3,239.9 L619.3,240.1 L620.3,240.3 L621.3,240.5 L622.3,240.7 L623.3,241.0 L624.3,241.2 L625.3,241.4 L626.3,241.6 L627.3,241.8 L628.3,242.0 L629.3,242.2 L630.3,242.4 L631.3,242.6 L632.3,242.8 L633.3,243.0 L634.3,243.2 L635.3,243.4 L636.3,243.6 L637.3,243.8 L638.3,244.0 L639.3,244.1 L640.3,244.3 L641.3,244.5 L642.3,244.7 L643.3,244.9 L644.3,245.1 L645.3,245.3 L646.3,245.5 L647.3,245.7 L648.3,245.8 L649.3,246.0 L650.3,246.2 L651.3,246.4 L652.3,246.6 L653.3,246.7 L654.3,246.9 L655.3,247.1 L656.3,247.3 L657.3,247.5 L658.3,247.6 L659.3,247.8 L660.3,248.0 L661.3,248.2 L662.3,248.3 L663.3,248.5 L664.3,248.7 L665.3,248.9 L666.3,249.0 L667.3,249.2 L668.3,249.4 L669.3,249.5 L670.3,249.7 L671.3,249.9 L672.3,250.0 L673.3,250.2 L674.3,250.4 L675.3,250.5 L676.3,250.7 L677.3,250.9 L678.3,251.0 L679.3,251.2 L680.3,251.3 L681.3,251.5 L682.3,251.7 L683.3,251.8 L684.3,252.0 L685.3,252.1 L686.3,252.3 L687.3,252.5 L688.3,252.6 L689.3,252.8 L690.3,252.9 L691.3,253.1 L692.3,253.2 L693.3,253.4 L694.3,253.5 L695.3,253.7 L696.3,253.8 L697.3,254.0 L698.3,254.1 L699.3,254.3 L700.3,254.4 L701.3,254.6 L702.3,254.7 L703.3,254.9 L704.3,255.0 L705.3,255.2 L706.3,255.3 L707.3,255.5 L708.3,255.6 L709.3,255.8 L710.3,255.9 L711.3,256.1 L712.3,256.2 L713.3,256.4 L714.3,256.5 L715.3,256.7 L716.3,256.8 L717.3,256.9 L718.3,257.1 L719.3,257.2 L720.3,257.4 L721.3,257.5 L722.3,257.7 L723.3,257.8 L724.3,257.9 L725.3,258.1 L726.3,258.2 L727.3,258.4 L728.3,258.5 L729.3,258.6 L730.3,258.8 L731.3,258.9 L732.3,259.1 L733.3,259.2 L734.3,259.3 L735.3,259.5 L736.3,259.6 L737.3,259.8 L738.3,259.9" fill="none" stroke="#000" stroke-width="1.7"/>
<path d="M411.1,233.3l4,7h-8z" fill="#000"/>
<path d="M423.6,214.1l4,7h-8z" fill="#000"/>
<path d="M436.6,203.3l4,7h-8z" fill="#000"/>
<path d="M449.1,200.4l4,7h-8z" fill="#000"/>
<path d="M461.7,202.1l4,7h-8z" fill="#000"/>
<path d="M474.3,200.0l4,7h-8z" fill="#000"/>
<path d="M486.8,201.2l4,7h-8z" fill="#000"/>
<path d="M499.4,203.0l4,7h-8z" fill="#000"/>
<path d="M512.0,206.8l4,7h-8z" fill="#000"/>
<path d="M524.5,211.8l4,7h-8z" fill="#000"/>
<path d="M537.1,216.3l4,7h-8z" fill="#000"/>
<path d="M549.7,222.6l4,7h-8z" fill="#000"/>
<path d="M574.8,233.8l4,7h-8z" fill="#000"/>
<path d="M612.5,244.4l4,7h-8z" fill="#000"/>
<path d="M637.6,247.0l4,7h-8z" fill="#000"/>
<path d="M675.3,249.9l4,7h-8z" fill="#000"/>
<path d="M738.1,249.0l4,7h-8z" fill="#000"/>
<path d="M436.6,212.2l4,3.9l-4,3.9l-4,-3.9z" fill="#0404e2"/>
<path d="M449.1,213.8l4,3.9l-4,3.9l-4,-3.9z" fill="#0404e2"/>
<path d="M461.7,196.9l4,3.9l-4,3.9l-4,-3.9z" fill="#0404e2"/>
<path d="M512.0,200.9l4,3.9l-4,3.9l-4,-3.9z" fill="#0404e2"/>
<path d="M524.5,206.5l4,3.9l-4,3.9l-4,-3.9z" fill="#0404e2"/>
<path d="M537.1,210.4l4,3.9l-4,3.9l-4,-3.9z" fill="#0404e2"/>
<path d="M549.7,213.3l4,3.9l-4,3.9l-4,-3.9z" fill="#0404e2"/>
<path d="M574.8,223.4l4,3.9l-4,3.9l-4,-3.9z" fill="#0404e2"/>
<path d="M612.5,239.4l4,3.9l-4,3.9l-4,-3.9z" fill="#0404e2"/>
<path d="M637.6,239.4l4,3.9l-4,3.9l-4,-3.9z" fill="#0404e2"/>
<path d="M675.3,243.5l4,3.9l-4,3.9l-4,-3.9z" fill="#0404e2"/>
<path d="M738.1,245.5l4,3.9l-4,3.9l-4,-3.9z" fill="#0404e2"/>
</svg>
</body></html>
